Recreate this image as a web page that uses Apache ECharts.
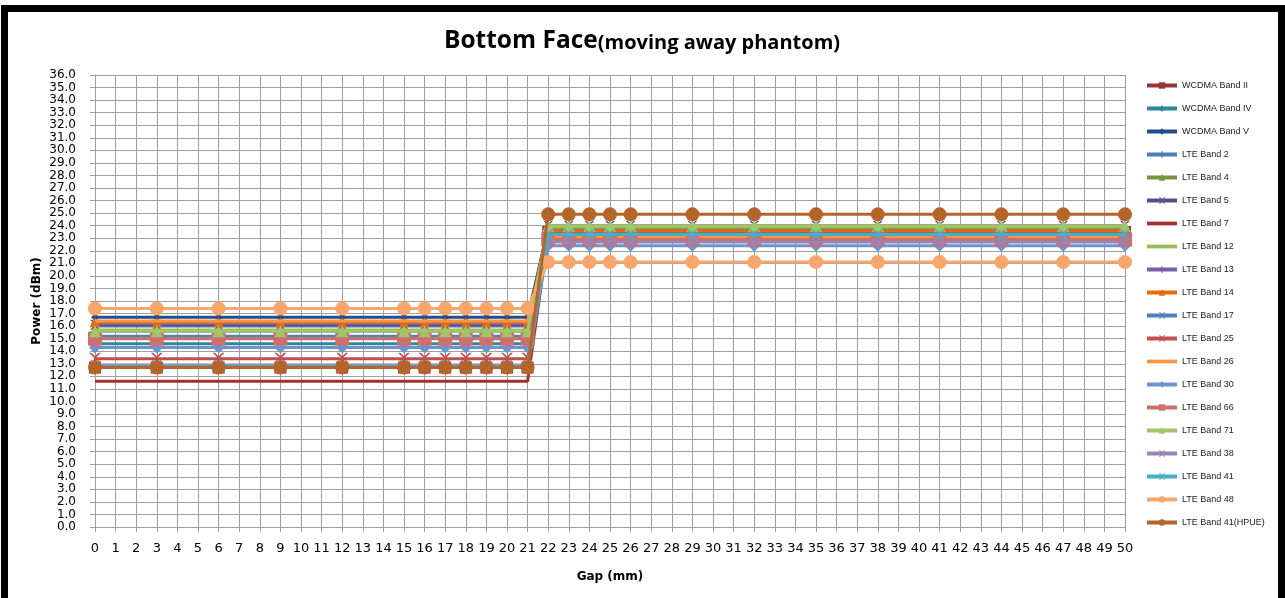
<!DOCTYPE html>
<html><head><meta charset="utf-8">
<script src="https://cdn.jsdelivr.net/npm/echarts@6/dist/echarts.min.js"></script>
<style>
html,body{margin:0;padding:0;background:#fff;}
#c{width:1285px;height:598px;position:absolute;left:0;top:0;}
#frame{position:absolute;left:1px;top:5px;width:1270px;height:600px;border:7px solid #000;border-bottom:none;pointer-events:none;}
</style></head>
<body>
<div id="c"></div>
<div id="frame"></div>
<script>
const gaps = [0,3,6,9,12,15,16,17,18,19,20,21,22,23,24,25,26,29,32,35,38,41,44,47,50];
const splitAt = 21; // last gap of the lower plateau
const seriesNames = ["WCDMA Band II","WCDMA Band IV","WCDMA Band V","LTE Band 2","LTE Band 4","LTE Band 5","LTE Band 7","LTE Band 12","LTE Band 13","LTE Band 14","LTE Band 17","LTE Band 25","LTE Band 26","LTE Band 30","LTE Band 66","LTE Band 71","LTE Band 38","LTE Band 41","LTE Band 48","LTE Band 41(HPUE)"];
const nearPower = [12.7,14.6,16.7,16.0,15.6,16.1,11.6,15.7,16.2,16.3,15.2,13.4,16.4,14.3,15.0,15.6,12.9,12.8,17.4,12.7];
const farPower  = [23.5,23.4,23.8,23.7,23.9,24.0,23.2,23.9,23.6,23.6,23.3,23.0,23.1,22.4,22.9,24.0,22.7,23.3,21.1,24.9];
const yTicks = {min:0,max:36,step:1};
const xTicks = {min:0,max:50,step:1};

const colors = ["#953735","#31859C","#254C8A","#4A7EBB","#77933C","#5F4B8B","#A5302D","#9BBB59","#7B5FA3","#E46C0A","#4F81BD","#C0504D","#F79646","#6E93CF","#CD6F6C","#A4C46A","#9983B5","#4BACC6","#F9A66C","#B5652A"];
const X = 'path://M0,0L2,0L5,3L8,0L10,0L6,4L6,6L10,10L8,10L5,7L2,10L0,10L4,6L4,4Z';
const P = 'path://M4,0L6,0L6,4L10,4L10,6L6,6L6,10L4,10L4,6L0,6L0,4L4,4Z';
const markers = ['rect','diamond','diamond',P,'triangle',X,'none','none',P,'triangle',X,X,'none','diamond','rect','triangle',X,X,'circle','circle'];
const msize = [12,8,8,8,12,10,0,0,8,10,10,12,0,12,14,12,10,10,14,14];
const LINE_ICON = 'path://M0,0L40,0L40,5L0,5Z';

const series = seriesNames.map((n,i)=>({
  name:n, type:'line',
  data: gaps.map(g=>[g, g<=splitAt ? nearPower[i] : farPower[i]]),
  lineStyle:{width:3,color:colors[i]},
  itemStyle:{color:colors[i]},
  symbol:markers[i], symbolSize:msize[i], showSymbol:markers[i]!=='none',
  z: 2+i, animation:false
}));

const legendData = seriesNames.map((n,i)=> markers[i]==='none' ? {name:n, icon:LINE_ICON, itemStyle:{color:colors[i]}} : {name:n});

const chart = echarts.init(document.getElementById('c'));
chart.setOption({
  animation:false,
  title:{text:'{a|Bottom Face}{b|(moving away phantom)}',left:637,textAlign:'center',top:24,
    textStyle:{rich:{a:{fontFamily:'Open Sans',fontWeight:'bold',fontSize:24.5,color:'#000'},b:{fontFamily:'Open Sans',fontWeight:'bold',fontSize:20,color:'#000',padding:[4,0,0,0]}}}},
  grid:{left:95,right:160,top:75,bottom:71},
  legend:{orient:'vertical',left:1140,top:76,itemWidth:30,itemHeight:8,itemGap:14,
    lineStyle:{width:4},
    textStyle:{fontFamily:'Liberation Sans',fontSize:9,color:'#222'},data:legendData},
  xAxis:{type:'value',min:xTicks.min,max:xTicks.max,interval:xTicks.step,
    name:'Gap (mm)',nameLocation:'middle',nameGap:44,nameMoveOverlap:false,
    nameTextStyle:{fontFamily:'DejaVu Sans',fontWeight:'bold',fontSize:12,color:'#000'},
    axisLine:{lineStyle:{color:'#a0a0a0'}},axisTick:{show:true,length:5,lineStyle:{color:'#a0a0a0'}},
    axisLabel:{fontFamily:'DejaVu Sans',fontSize:13,color:'#000',margin:15},
    splitLine:{show:true,lineStyle:{color:'#a0a0a0',width:1}}},
  yAxis:{type:'value',min:yTicks.min,max:yTicks.max,interval:yTicks.step,
    name:'Power (dBm)',nameLocation:'middle',nameGap:52,nameMoveOverlap:false,
    nameTextStyle:{fontFamily:'DejaVu Sans',fontWeight:'bold',fontSize:12,color:'#000'},
    axisLine:{show:true,lineStyle:{color:'#a0a0a0'}},axisTick:{show:true,length:5,lineStyle:{color:'#a0a0a0'}},
    axisLabel:{fontFamily:'DejaVu Sans',fontSize:12,color:'#000',margin:19,formatter:v=>v.toFixed(1)},
    splitLine:{show:true,lineStyle:{color:'#a0a0a0',width:1}}},
  series:series
});
</script>
</body></html>
